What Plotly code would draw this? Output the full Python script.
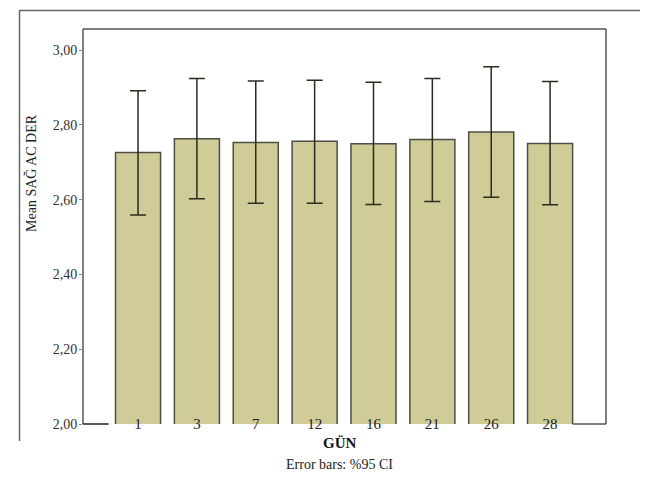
import plotly.graph_objects as go

categories = ["1", "3", "7", "12", "16", "21", "26", "28"]
means = [2.726, 2.763, 2.753, 2.756, 2.749, 2.761, 2.781, 2.750]
ci_high = [2.891, 2.924, 2.917, 2.919, 2.914, 2.924, 2.955, 2.916]
ci_low = [2.559, 2.602, 2.590, 2.590, 2.587, 2.595, 2.606, 2.586]
y_ticks = [2.0, 2.2, 2.4, 2.6, 2.8, 3.0]
y_tick_labels = ["2,00", "2,20", "2,40", "2,60", "2,80", "3,00"]

W, H = 648, 495
L, R, T, B = 75, 50, 21, 79
pw, ph = W - L - R, H - T - B

def px(x):
    return (x - L) / pw

def py(y):
    return (H - B - y) / ph

FONT = "Liberation Serif"
edge = "#555555"
xlo, xhi = -0.935, 7.95
bar_w = 0.765

fig = go.Figure()
fig.add_trace(go.Bar(
    x=categories, y=means, width=bar_w,
    marker=dict(color="#cfcc97", line=dict(color="#4d4d45", width=1.5)),
    error_y=dict(type="data", symmetric=False,
                 array=[h - m for h, m in zip(ci_high, means)],
                 arrayminus=[m - l for m, l in zip(means, ci_low)],
                 color="#2b2b1f", thickness=1.5, width=8),
    hoverinfo="skip",
))

shapes = [
    # plot frame
    dict(type="line", xref="paper", yref="paper", x0=0, x1=0, y0=0, y1=1, line=dict(color=edge, width=1.5)),
    dict(type="line", xref="paper", yref="paper", x0=0, x1=1, y0=1, y1=1, line=dict(color=edge, width=1.5)),
    dict(type="line", xref="paper", yref="paper", x0=1, x1=1, y0=0, y1=1, line=dict(color=edge, width=1.5)),
    dict(type="line", xref="x", yref="paper", x0=xlo, x1=-0.5, y0=0, y1=0, line=dict(color="#222", width=1.5)),
    dict(type="line", xref="x", yref="paper", x0=7 + bar_w / 2, x1=xhi, y0=0, y1=0, line=dict(color=edge, width=1.5)),
    # outer frame
    dict(type="line", xref="paper", yref="paper", x0=px(11), x1=px(648), y0=py(2.5), y1=py(2.5), line=dict(color="#666", width=1.5)),
    dict(type="line", xref="paper", yref="paper", x0=px(11.5), x1=px(11.5), y0=py(2), y1=py(433), line=dict(color="#666", width=1.5)),
    dict(type="rect", xref="paper", yref="paper", x0=px(12), x1=px(648), y0=py(488), y1=py(491), fillcolor="#e0e0e0", line=dict(width=0)),
    dict(type="line", xref="paper", yref="paper", x0=px(12), x1=px(648), y0=py(492), y1=py(492), line=dict(color="#222", width=1.5)),
    dict(type="line", xref="paper", yref="paper", x0=px(12), x1=px(12), y0=py(487), y1=py(492), line=dict(color="#444", width=1.2)),
]

annotations = [
    dict(text="<b>GÜN</b>", xref="paper", yref="paper", x=px(332), y=py(435), showarrow=False,
         font=dict(family=FONT, size=15, color="#111"), xanchor="center", yanchor="middle"),
    dict(text="Error bars: %95 CI", xref="paper", yref="paper", x=px(331), y=py(456), showarrow=False,
         font=dict(family=FONT, size=14, color="#222"), xanchor="center", yanchor="middle"),
    dict(text="Mean SAĞ AC DER", xref="paper", yref="paper", x=px(23), y=py(165), showarrow=False,
         textangle=-90, font=dict(family=FONT, size=14, color="#222"), xanchor="center", yanchor="middle"),
]

fig.update_layout(
    width=W, height=H,
    margin=dict(l=L, r=R, t=T, b=B, pad=0),
    paper_bgcolor="white", plot_bgcolor="white",
    showlegend=False,
    shapes=shapes, annotations=annotations,
    font=dict(family=FONT, size=12, color="#222"),
    xaxis=dict(type="category", range=[xlo, xhi], showgrid=False, showline=False, zeroline=False,
               ticks="", tickfont=dict(family=FONT, size=15, color="#222"), ticklabelstandoff=-11),
    yaxis=dict(range=[2.0, 2.0 + (H - B - T) / 374.0], tickvals=y_ticks, ticktext=y_tick_labels,
               showgrid=False, showline=False, zeroline=False, ticks="outside", ticklen=3,
               tickcolor="#888", tickfont=dict(family=FONT, size=14, color="#333"), ticklabelstandoff=-1),
    bargap=0.2,
)

fig.write_html("out.html")
